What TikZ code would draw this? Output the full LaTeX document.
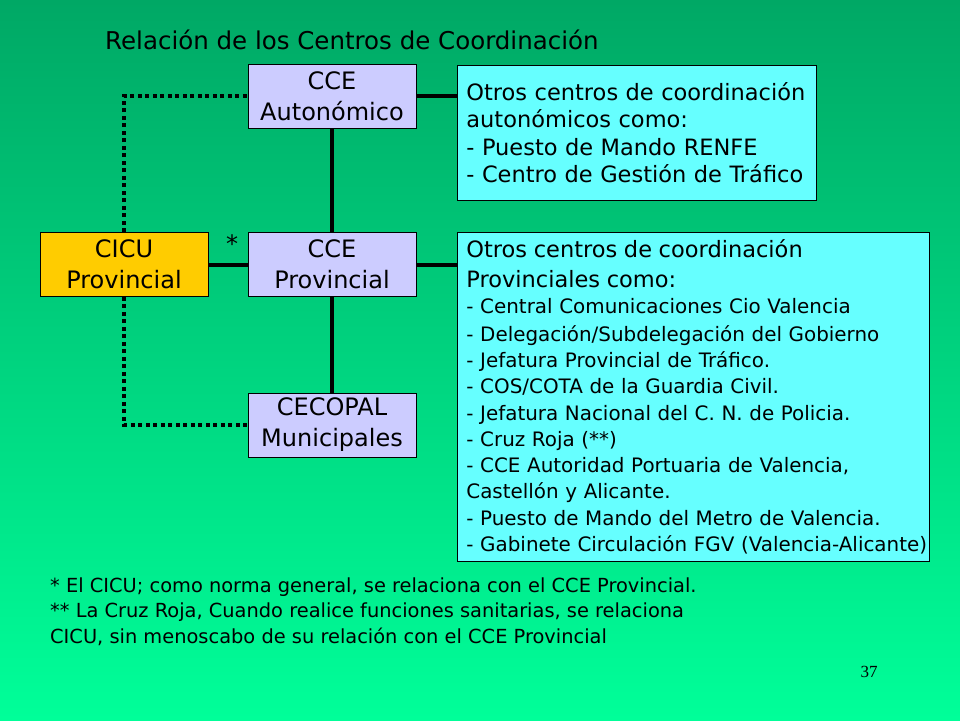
\documentclass[tikz,border=0pt]{standalone}
\usepackage{fontspec}
\setmainfont{DejaVu Sans}
\newfontfamily\numfont{Liberation Serif}
\begin{document}
\pgfdeclarelayer{bglayer}
\pgfdeclarelayer{linklayer}
\pgfsetlayers{bglayer,linklayer,main}
\begin{tikzpicture}[x=1pt,y=-1pt]
\definecolor{bgtop}{HTML}{00A865}
\definecolor{bgbot}{HTML}{00FF99}
\definecolor{lav}{HTML}{CCCCFF}
\definecolor{gold}{HTML}{FFCC00}
\definecolor{cyanbox}{HTML}{66FFFF}
\tikzset{
  box/.style={draw=black, line width=0.8pt, minimum width=168pt, minimum height=64pt, inner sep=0pt, align=center, font=\fontsize{24}{31}\selectfont},
  infobox/.style={draw=black, line width=0.8pt, anchor=north west, inner xsep=9pt, inner ysep=0pt, align=left, fill=cyanbox},
  solidlink/.style={line width=4pt, black},
  dotlink/.style={line width=4pt, black, dash pattern=on 4pt off 3.5pt},
  note/.style={anchor=west, inner sep=0pt, font=\fontsize{19.4}{25}\selectfont}
}
\useasboundingbox (0,0) rectangle (960,720);
\begin{pgfonlayer}{bglayer}
\shade[top color=bgtop, bottom color=bgbot] (0,0) rectangle (960,720);
\end{pgfonlayer}

\node[anchor=west, inner sep=0pt, font=\fontsize{24.5}{28}\selectfont] (title) at (105,40) {Relación de los Centros de Coordinación};

\node[box, fill=lav] (ccea) at (332,96) {CCE\\Autonómico};
\node[box, fill=lav] (ccep) at (332,264.5) {CCE\\Provincial};
\node[box, fill=lav] (cecopal) at (332,425) {CECOPAL\\Municipales};
\node[box, fill=gold] (cicu) at (124,264.5) {CICU\\Provincial};

\node[infobox, minimum width=359pt, minimum height=135pt, text width=341pt,
      font=\fontsize{22.5}{27.5}\selectfont] (otros1) at (457,65)
 {Otros centros de coordinación\\
  autonómicos como:\\
  - Puesto de Mando RENFE\\
  - Centro de Gestión de Tráfico};

\node[infobox, minimum width=472pt, minimum height=329pt, text width=454pt,
      font=\fontsize{19.9}{26.3}\selectfont] (otros2) at (457,232)
 {\fontsize{22.5}{27}\selectfont Otros centros de coordinación\\[3pt]
  \fontsize{22.5}{27}\selectfont Provinciales como:\\
  \fontsize{19.9}{26.3}\selectfont - Central Comunicaciones Cio Valencia\\[1pt]
  - Delegación/Subdelegación del Gobierno\\
  - Jefatura Provincial de Tráfico.\\
  - COS/COTA de la Guardia Civil.\\
  - Jefatura Nacional del C. N. de Policia.\\
  - Cruz Roja (**)\\
  - CCE Autoridad Portuaria de Valencia,\\
  Castellón y Alicante.\\
  - Puesto de Mando del Metro de Valencia.\\
  \makebox[454pt][l]{- Gabinete Circulación FGV (Valencia-Alicante)}};

\begin{pgfonlayer}{linklayer}
\draw[solidlink] (ccea) -- (ccep);
\draw[solidlink] (ccep) -- (cecopal);
\draw[solidlink] (cicu) -- (ccep);
\draw[solidlink] (ccea.east) -- (ccea.east -| otros1.west);
\draw[solidlink] (ccep.east) -- (ccep.east -| otros2.west);
\draw[dotlink] (cicu.north) |- (ccea.west);
\draw[dotlink] (cicu.south) |- (cecopal.west);
\end{pgfonlayer}

\node[inner sep=0pt, font=\fontsize{24}{28}\selectfont] (star) at (232,244) {*};

\node[note] (n1) at (50,587) {* El CICU; como norma general, se relaciona con el CCE Provincial.};
\node[note] (n2) at (50,612) {** La Cruz Roja, Cuando realice funciones sanitarias, se relaciona};
\node[note] (n3) at (50,637) {CICU, sin menoscabo de su relación con el CCE Provincial};

\node[inner sep=0pt, font=\numfont\fontsize{17}{20}\selectfont] (page) at (869,672) {37};
\end{tikzpicture}
\end{document}
